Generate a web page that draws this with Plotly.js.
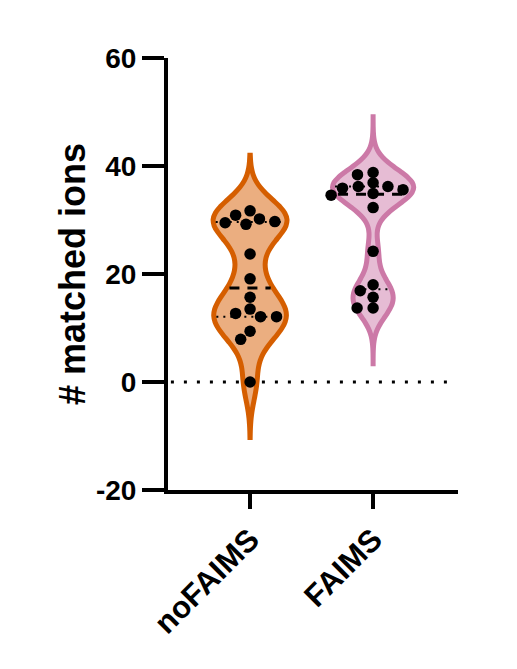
<!DOCTYPE html>
<html>
<head>
<meta charset="utf-8">
<script src="https://cdn.plot.ly/plotly-3.0.1.min.js"></script>
<style>html,body{margin:0;padding:0;background:#fff;}#chart{width:517px;height:669px;}</style>
</head>
<body>
<div id="chart"></div>
<script>
// ---- data ----
const categories = ['noFAIMS', 'FAIMS'];
const noFAIMS = [29.5, 30.2, 30.9, 29.2, 31.7, 29.7, 23.7, 19.1, 15.7, 13.5, 12.1, 12.7, 12.1, 9.4, 7.9, 0];
const FAIMS = [36.2, 36.9, 34.9, 38.8, 38.4, 34.6, 35.6, 35.9, 36.2, 32.3, 24.2, 18.0, 16.9, 15.7, 13.7, 13.7];
const yTickVals = [-20, 0, 20, 40, 60];

// ---- styles ----
const lineColors = ['#D55E00', '#CC79A7'];
const fillColors = ['#EBAE80', '#E6BCD4'];
const violinWidths = [0.6, 0.66];
const bandwidths = [3.6, 2.8];
const tailExt = 10.3;
const W = 517, H = 669;
const margin = {l: 168, r: 59, t: 58, b: 179};
const xRange = [-0.667, 1.69];
const yRange = [-20, 60];
const xpx = (W - margin.l - margin.r) / (xRange[1] - xRange[0]);
const ypx = (H - margin.t - margin.b) / (yRange[1] - yRange[0]);
const FONT = 'Liberation Sans, Arial, Helvetica, sans-serif';

const series = [noFAIMS, FAIMS];

function quantile(arr, p) {
  const s = arr.slice().sort((a, b) => a - b);
  const n = s.length;
  let pos = (n + 1) * p;
  if (pos < 1) pos = 1;
  if (pos > n) pos = n;
  const lo = Math.floor(pos), frac = pos - lo;
  if (lo >= n) return s[n - 1];
  return s[lo - 1] + frac * (s[lo] - s[lo - 1]);
}

function kde(arr, y, bw) {
  let sum = 0;
  for (const v of arr) { const u = (y - v) / bw; sum += Math.exp(-0.5 * u * u); }
  return sum / (arr.length * bw * Math.sqrt(2 * Math.PI));
}

function spanOf(arr) { return [Math.min(...arr) - tailExt, Math.max(...arr) + tailExt]; }

function halfWidth(arr, y, width, bw) {
  const [mn, mx] = spanOf(arr);
  let fmax = 0;
  for (let i = 0; i <= 1000; i++) { const yy = mn + (mx - mn) * i / 1000; fmax = Math.max(fmax, kde(arr, yy, bw)); }
  return width / 2 * kde(arr, y, bw) / fmax;
}

// collision swarm with elliptical spacing (horizontal sx px, vertical sy px)
function swarm(arr) {
  const sx = 16, sy = 10;
  const pts = arr.map((v, i) => ({v, i, py: v * ypx})).sort((a, b) => b.v - a.v);
  const placed = [];
  const hit = (x, p) => placed.some(q => ((q.px - x) / sx) ** 2 + ((q.py - p.py) / sy) ** 2 < 1 - 1e-6);
  for (const p of pts) {
    const cands = [0];
    for (const q of placed) {
      const dy = p.py - q.py;
      if (Math.abs(dy) < sy) {
        const dx = sx * Math.sqrt(1 - (dy / sy) ** 2);
        cands.push(q.px + dx, q.px - dx);
      }
    }
    cands.sort((a, b) => Math.abs(a) - Math.abs(b) || a - b);
    p.px = 0;
    for (const c of cands) { if (!hit(c, p)) { p.px = c; break; } }
    placed.push(p);
  }
  const out = new Array(arr.length);
  for (const p of placed) out[p.i] = p.px / xpx;
  return out;
}

const traces = [];
series.forEach((arr, k) => {
  traces.push({
    type: 'violin', x0: k, y: arr, width: violinWidths[k], bandwidth: bandwidths[k],
    span: spanOf(arr), spanmode: 'manual', points: false, box: {visible: false}, meanline: {visible: false},
    line: {color: lineColors[k], width: 5}, fillcolor: fillColors[k],
    hoverinfo: 'skip', showlegend: false, orientation: 'v'
  });
});
series.forEach((arr, k) => {
  const lineInset = 2.5 / xpx;
  const qs = [{p: 0.25, dash: '2px,5px', w: 2}, {p: 0.75, dash: '2px,5px', w: 2}, {p: 0.5, dash: '10px,8px', w: 3}];
  qs.forEach(q => {
    const yv = quantile(arr, q.p);
    const hw = Math.max(halfWidth(arr, yv, violinWidths[k], bandwidths[k]) - lineInset, 0);
    traces.push({
      type: 'scatter', mode: 'lines', x: [k - hw, k + hw], y: [yv, yv],
      line: {color: '#000', width: q.w, dash: q.dash}, hoverinfo: 'skip', showlegend: false
    });
  });
});
series.forEach((arr, k) => {
  const offs = swarm(arr);
  traces.push({
    type: 'scatter', mode: 'markers', x: offs.map(o => k + o), y: arr,
    marker: {color: '#000', size: 11.5, line: {width: 0}}, hoverinfo: 'skip', showlegend: false
  });
});

const tickFont = {family: FONT, size: 28, color: '#000', weight: 'bold'};
const layout = {
  width: W, height: H, margin: margin,
  paper_bgcolor: '#fff', plot_bgcolor: '#fff',
  showlegend: false, violinmode: 'overlay',
  xaxis: {
    range: xRange, tickvals: [0, 1], ticktext: categories, tickangle: -45,
    ticks: 'outside', ticklen: 15, tickwidth: 4, tickcolor: '#000',
    showline: true, linewidth: 4, linecolor: '#000',
    showgrid: false, zeroline: false, tickfont: {family: FONT, size: 31, color: '#000', weight: 'bold'}, fixedrange: true
  },
  yaxis: {
    range: yRange, tickvals: yTickVals, ticktext: yTickVals.map(String),
    ticks: 'outside', ticklen: 22, tickwidth: 4, tickcolor: '#000',
    showline: true, linewidth: 4, linecolor: '#000',
    showgrid: false, zeroline: false, tickfont: tickFont,
    title: {text: '# matched ions', font: {family: FONT, size: 36, color: '#000', weight: 'bold'}, standoff: 0},
    fixedrange: true
  },
  shapes: [{
    type: 'line', xref: 'paper', yref: 'y', x0: 0.01, x1: 0.99, y0: 0, y1: 0,
    line: {color: '#000', width: 3, dash: '3px,10px'}, layer: 'below'
  }]
};

Plotly.newPlot('chart', traces, layout, {staticPlot: true, displayModeBar: false});
</script>
</body>
</html>
